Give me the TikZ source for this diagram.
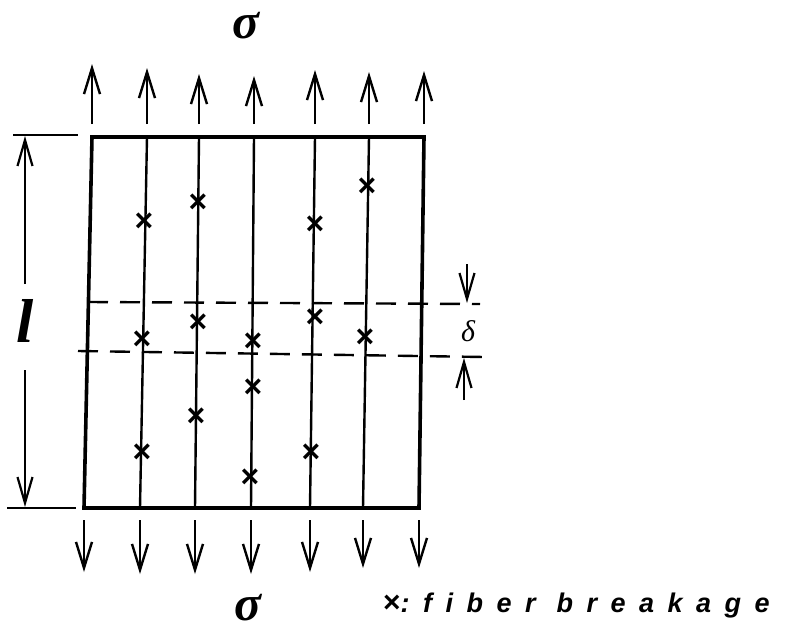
\documentclass[tikz,border=0pt]{standalone}
\usepackage{fontspec}
\usetikzlibrary{arrows.meta}
\newfontfamily\legfont[LetterSpace=50]{Liberation Sans}
\newfontfamily\symfont{Liberation Sans}
\newfontfamily\grkfont{Liberation Serif}
\tikzset{
  frame/.style={line width=3.6pt},
  fiber/.style={line width=2.4pt},
  load/.style={line width=2.4pt,-{Straight Barb[length=26pt,width=16pt]}},
  dim/.style={line width=2.2pt},
  dimarrow/.style={line width=2.2pt,-{Straight Barb[length=26pt,width=15pt]}},
  cut/.style={line width=2.4pt,dash pattern=on 20pt off 12pt},
  brk/.style={font=\symfont\bfseries\fontsize{32}{32}\selectfont,inner sep=0pt},
  lbl/.style={inner sep=0pt}
}
\begin{document}
\begin{tikzpicture}[x=1pt,y=-1pt]
\useasboundingbox (0,0) rectangle (788,632);
% frame
\coordinate (TL) at (92,137); \coordinate (TR) at (424,137);
\coordinate (BR) at (419,508); \coordinate (BL) at (84,508);
\draw[frame] (TL) -- (TR) -- (BR) -- (BL) -- cycle;
% fibers
\foreach \i/\xt/\xb in {1/147/140,2/199/195,3/254/251,4/315/310,5/369/363}{
  \coordinate (ft\i) at (\xt,137); \coordinate (fb\i) at (\xb,508);
  \draw[fiber] (ft\i) -- (fb\i);
}
% top load arrows
\foreach \i/\x/\t in {1/92/64,2/147/68,3/199/74,4/254/76,5/315/70,6/369/72,7/424/71}{
  \coordinate (ua\i) at (\x,124); \coordinate (ub\i) at (\x,\t);
  \draw[load] (ua\i) -- (ub\i);
}
% bottom load arrows
\foreach \i/\x/\t in {1/84/572,2/140/574,3/195/574,4/251/574,5/310/572,6/363/568,7/419/568}{
  \coordinate (da\i) at (\x,520); \coordinate (db\i) at (\x,\t);
  \draw[load] (da\i) -- (db\i);
}
% sigma labels
\node[lbl,anchor=base,font=\grkfont\bfseries\itshape\fontsize{50}{50}\selectfont] (sigtop) at (246,38) {σ};
\node[lbl,anchor=base,font=\grkfont\bfseries\itshape\fontsize{50}{50}\selectfont] (sigbot) at (248,620) {σ};
% dashed cut lines
\coordinate (c1a) at (88,302); \coordinate (c1b) at (480,304);
\coordinate (c2a) at (78,351); \coordinate (c2b) at (484,357);
\draw[cut] (c1a) -- (c1b);
\draw[cut] (c2a) -- (c2b);
% delta dimension
\coordinate (dt) at (467,264); \coordinate (dtt) at (467,303);
\coordinate (db) at (464,400); \coordinate (dbt) at (464,358);
\draw[dimarrow] (dt) -- (dtt);
\draw[dimarrow] (db) -- (dbt);
\node[lbl,anchor=base,font=\grkfont\itshape\fontsize{30}{30}\selectfont] (delta) at (468,341) {δ};
% l dimension
\coordinate (lt1) at (13,135); \coordinate (lt2) at (78,135);
\coordinate (lb1) at (7,508); \coordinate (lb2) at (76,508);
\draw[dim] (lt1) -- (lt2);
\draw[dim] (lb1) -- (lb2);
\coordinate (la) at (25,284); \coordinate (lat) at (25,136);
\coordinate (lb) at (25,370); \coordinate (lbt) at (25,507);
\draw[dimarrow] (la) -- (lat);
\draw[dimarrow] (lb) -- (lbt);
\node[lbl,anchor=base,font=\grkfont\bfseries\itshape\fontsize{62}{62}\selectfont] (ell) at (25,342) {l};
% fiber breaks
\foreach \n/\x/\y in {a/144/222,b/142/340,c/142/453,d/198/203,e/198/323,f/196/417,g/253/342,h/253/388,i/250/478,j/315/225,k/315/318,m/311/453,n/367/187,o/365/338}{
  \node[brk] (x\n) at (\x,\y) {×};
}
% legend
\node[lbl,anchor=base west] (legend) at (383,612) {{\symfont\bfseries\fontsize{30}{30}\selectfont ×}{\legfont\bfseries\itshape\fontsize{27}{27}\selectfont :fiber breakage}};
\end{tikzpicture}
\end{document}
